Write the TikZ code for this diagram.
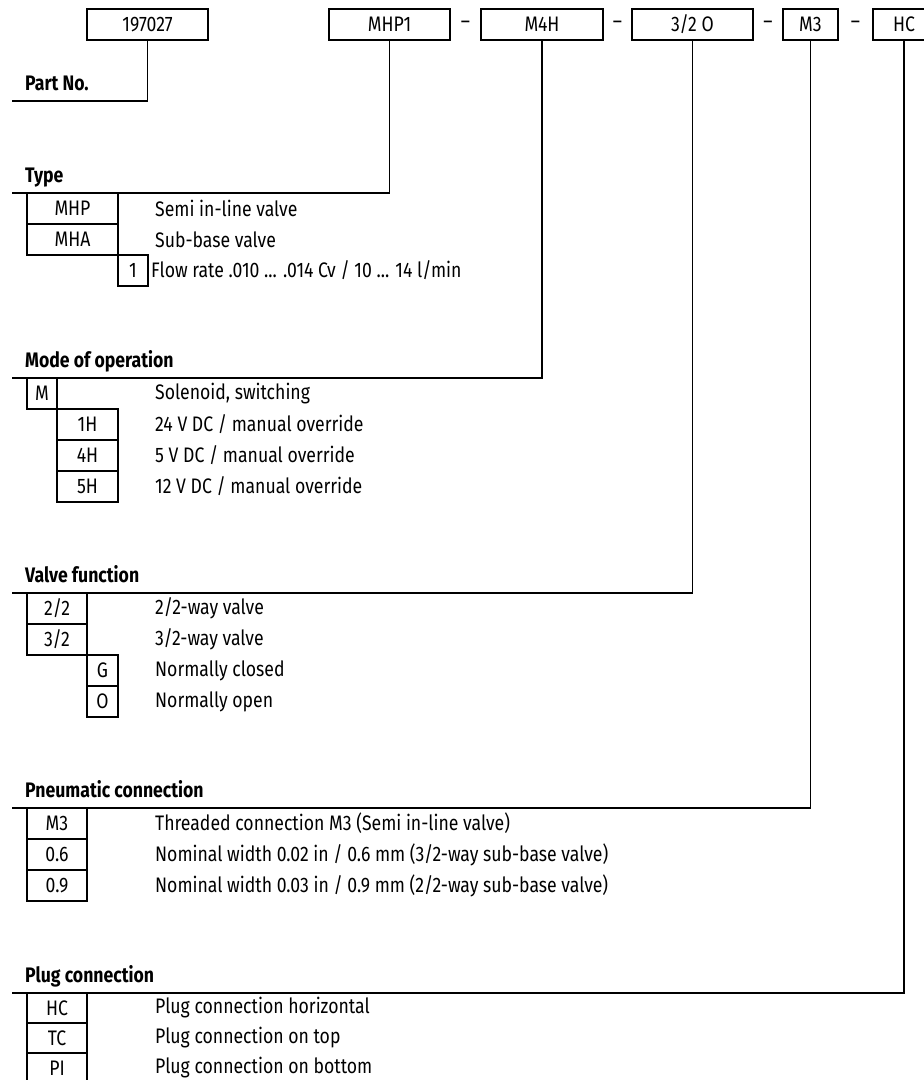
\documentclass[tikz,border=0pt]{standalone}
\usepackage{fontspec}
\setmainfont{Fira Sans}[FakeStretch=0.84]
\usetikzlibrary{positioning,calc}

\begin{document}
\begin{tikzpicture}[x=1pt,y=-1pt,
    every node/.style={font=\fontsize{21}{24}\selectfont},
    keybox/.style={draw,line width=1.3pt,inner sep=0pt,outer sep=0pt,
      minimum height=31pt},
    rowbox/.style={draw,line width=1.3pt,inner sep=0pt,outer sep=0pt,
      minimum height=31pt,anchor=north west},
    sectitle/.style={anchor=base west,inner sep=0pt,
      font=\fontsize{21}{24}\selectfont\bfseries},
    desc/.style={anchor=west,inner sep=0pt},
    leader/.style={line width=1.3pt}]
  \useasboundingbox (0,0) rectangle (924,1080);

  % order code
  \node[keybox,minimum width=121pt] (kpart) at (147.5,24.5) {197027};
  \node[keybox,minimum width=121pt] (ktype) at (389.5,24.5) {MHP1};
  \node[keybox,minimum width=122pt] (kmode) at (542,24.5) {M4H};
  \node[keybox,minimum width=121pt] (kfunc) at (692.5,24.5) {3/2 O};
  \node[keybox,minimum width=55pt] (kpneu) at (810.5,24.5) {M3};
  \node[keybox,minimum width=62pt] (kplug) at (904,24.5) {HC};
  \node (d1) at ($(ktype.east)!0.5!(kmode.west)$) {–};
  \node (d2) at ($(kmode.east)!0.5!(kfunc.west)$) {–};
  \node (d3) at ($(kfunc.east)!0.5!(kpneu.west)$) {–};
  \node (d4) at ($(kpneu.east)!0.5!(kplug.west)$) {–};

  \coordinate (col) at (155,0);
  \coordinate (lpart) at (12,101);
  \coordinate (ltype) at (12,193);
  \coordinate (lmode) at (12,378);
  \coordinate (lfunc) at (12,593);
  \coordinate (lpneu) at (12,808);
  \coordinate (lplug) at (12,993);

  \draw[leader] (kpart.south) |- (lpart);
  \draw[leader] (ktype.south) |- (ltype);
  \draw[leader] (kmode.south) |- (lmode);
  \draw[leader] (kfunc.south) |- (lfunc);
  \draw[leader] (kpneu.south) |- (lpneu);
  \draw[leader] (kplug.south) |- (lplug);

  \node[sectitle] (tpart) at (25,90) {Part No.};

  % type
  \node[sectitle] (ttype) at (25,182) {Type};
  \node[rowbox,minimum width=91pt] (tmhp) at (27,193) {MHP};
  \node[rowbox,minimum width=91pt] (tmha) at (tmhp.south west) {MHA};
  \node[rowbox,minimum width=30pt] (tone) at (tmha.south east) {1};
  \node[desc] (xmhp) at (col |- tmhp.east) {Semi in-line valve};
  \node[desc] (xmha) at (col |- tmha.east) {Sub-base valve};
  \node[desc,right=3pt of tone] (xone)
    {Flow rate .010 ... .014 Cv / 10 ... 14 l/min};

  % mode of operation
  \node[sectitle] (tmode) at (25,367) {Mode of operation};
  \node[rowbox,minimum width=30pt] (mm) at (27,378) {M};
  \node[rowbox,minimum width=61pt] (m1h) at (mm.south east) {1H};
  \node[rowbox,minimum width=61pt] (m4h) at (m1h.south west) {4H};
  \node[rowbox,minimum width=61pt] (m5h) at (m4h.south west) {5H};
  \node[desc] (xm) at (col |- mm.east) {Solenoid, switching};
  \node[desc] (x1h) at (col |- m1h.east) {24 V DC / manual override};
  \node[desc] (x4h) at (col |- m4h.east) {5 V DC / manual override};
  \node[desc] (x5h) at (col |- m5h.east) {12 V DC / manual override};

  % valve function
  \node[sectitle] (tfunc) at (25,582) {Valve function};
  \node[rowbox,minimum width=60pt] (f22) at (27,593) {2/2};
  \node[rowbox,minimum width=60pt] (f32) at (f22.south west) {3/2};
  \node[rowbox,minimum width=31pt] (fg) at (f32.south east) {G};
  \node[rowbox,minimum width=31pt] (fo) at (fg.south west) {O};
  \node[desc] (x22) at (col |- f22.east) {2/2-way valve};
  \node[desc] (x32) at (col |- f32.east) {3/2-way valve};
  \node[desc] (xg) at (col |- fg.east) {Normally closed};
  \node[desc] (xo) at (col |- fo.east) {Normally open};

  % pneumatic connection
  \node[sectitle] (tpneu) at (25,797) {Pneumatic connection};
  \node[rowbox,minimum width=60pt] (pm3) at (27,808) {M3};
  \node[rowbox,minimum width=60pt] (p06) at (pm3.south west) {0.6};
  \node[rowbox,minimum width=60pt] (p09) at (p06.south west) {0.9};
  \node[desc] (xm3) at (col |- pm3.east)
    {Threaded connection M3 (Semi in-line valve)};
  \node[desc] (x06) at (col |- p06.east)
    {Nominal width 0.02 in / 0.6 mm (3/2-way sub-base valve)};
  \node[desc] (x09) at (col |- p09.east)
    {Nominal width 0.03 in / 0.9 mm (2/2-way sub-base valve)};

  % plug connection
  \node[sectitle] (tplug) at (25,982) {Plug connection};
  \node[rowbox,minimum width=60pt,minimum height=30pt] (phc) at (27,993) {HC};
  \node[rowbox,minimum width=60pt,minimum height=30pt] (ptc) at (phc.south west) {TC};
  \node[rowbox,minimum width=60pt,minimum height=30pt] (ppi) at (ptc.south west) {PI};
  \node[desc] (xhc) at (col |- phc.east) {Plug connection horizontal};
  \node[desc] (xtc) at (col |- ptc.east) {Plug connection on top};
  \node[desc] (xpi) at (col |- ppi.east) {Plug connection on bottom};
\end{tikzpicture}
\end{document}
